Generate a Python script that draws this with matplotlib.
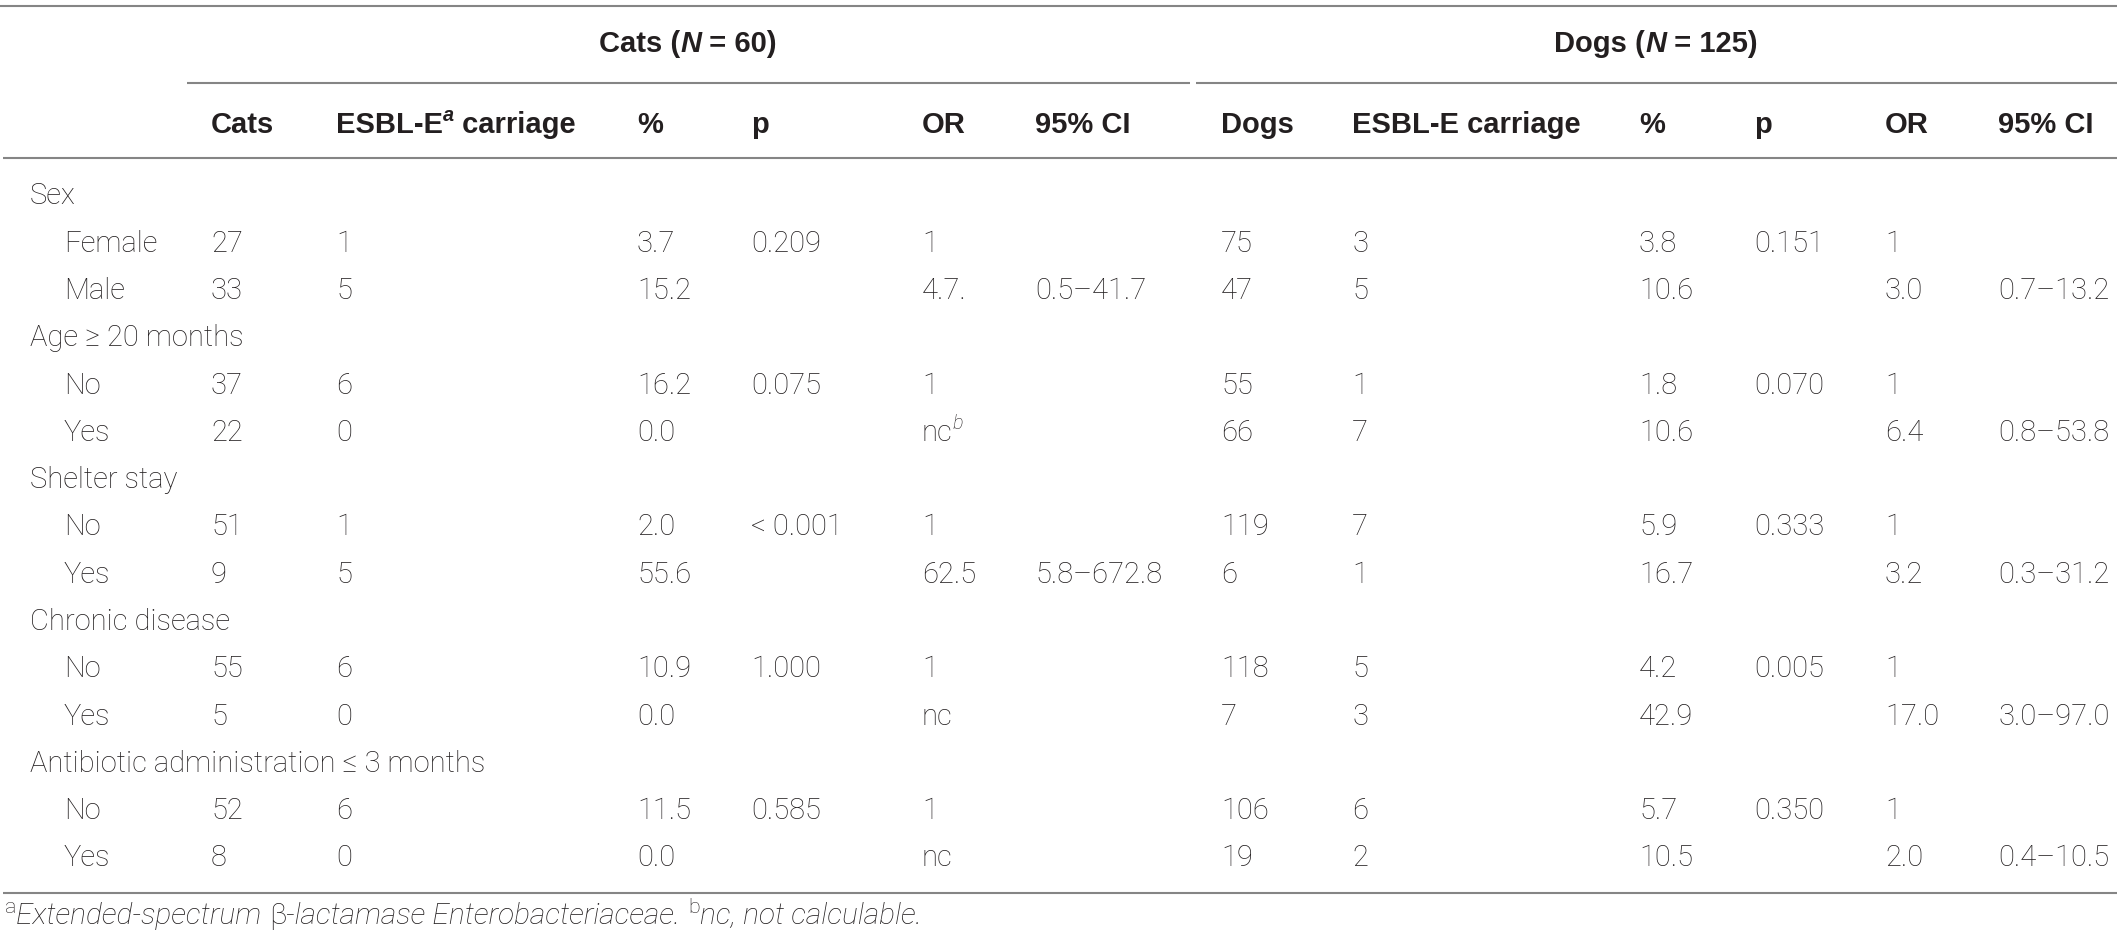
import matplotlib
matplotlib.use("Agg")
import matplotlib.pyplot as plt

# ---------------- data ----------------
variables = ["Sex", "Age ≥ 20 months", "Shelter stay", "Chronic disease",
             "Antibiotic administration ≤ 3 months"]
levels = [["Female", "Male"], ["No", "Yes"], ["No", "Yes"], ["No", "Yes"], ["No", "Yes"]]

cats_n = ["27", "33", "37", "22", "51", "9", "55", "5", "52", "8"]
cats_esbl = ["1", "5", "6", "0", "1", "5", "6", "0", "6", "0"]
cats_pct = ["3.7", "15.2", "16.2", "0.0", "2.0", "55.6", "10.9", "0.0", "11.5", "0.0"]
cats_p = ["0.209", "", "0.075", "", "< 0.001", "", "1.000", "", "0.585", ""]
cats_or = ["1", "4.7.", "1", "nc|b", "1", "62.5", "1", "nc", "1", "nc"]
cats_ci = ["", "0.5–41.7", "", "", "", "5.8–672.8", "", "", "", ""]

dogs_n = ["75", "47", "55", "66", "119", "6", "118", "7", "106", "19"]
dogs_esbl = ["3", "5", "1", "7", "7", "1", "5", "3", "6", "2"]
dogs_pct = ["3.8", "10.6", "1.8", "10.6", "5.9", "16.7", "4.2", "42.9", "5.7", "10.5"]
dogs_p = ["0.151", "", "0.070", "", "0.333", "", "0.005", "", "0.350", ""]
dogs_or = ["1", "3.0", "1", "6.4", "1", "3.2", "1", "17.0", "1", "2.0"]
dogs_ci = ["", "0.7–13.2", "", "0.8–53.8", "", "0.3–31.2", "", "3.0–97.0", "", "0.4–10.5"]

group_titles = [("Cats", "60"), ("Dogs", "125")]
col_headers_cats = ["Cats", "ESBL-E|a carriage", "%", "p", "OR", "95% CI"]
col_headers_dogs = ["Dogs", "ESBL-E carriage", "%", "p", "OR", "95% CI"]

footnote = [("a", "sup"), ("Extended-spectrum ", "it"), ("β", "rm"),
            ("-lactamase Enterobacteriaceae.", "it"), (" ", "rm"), ("b", "sup"),
            ("nc, not calculable.", "it")]

# ---------------- layout ----------------
W, H = 2117, 946
HFAM = ["Liberation Sans", "DejaVu Sans"]
BFAM = ["Roboto", "Liberation Sans", "DejaVu Sans"]
TXT = "#231f20"
LINE = "#858585"
BODY = 21.0
HEAD = 21.0
FOOT = 21.5

cat_x = [211, 336, 637, 751, 922, 1035]
dog_x = [1221, 1352, 1639, 1754, 1885, 1998]
lab_x, sub_x = 30, 64
row0, dy_row = 204.4, 47.29

fig = plt.figure(figsize=(W / 100, H / 100), dpi=100)
ax = fig.add_axes([0, 0, 1, 1])
ax.set_xlim(0, W)
ax.set_ylim(H, 0)
ax.axis("off")
fig.canvas.draw()
R = fig.canvas.get_renderer()


def runs(x, y, parts, ha="left"):
    """parts: list of (text, kwargs, raise_px)."""
    arts = []
    cur = x
    for s, kw, rise in parts:
        t = ax.text(cur, y - rise, s, va="baseline", ha="left", color=TXT, **kw)
        bb = t.get_window_extent(R)
        cur += bb.width
        arts.append(t)
    if ha == "center":
        shift = -(cur - x) / 2
        for t in arts:
            px, py = t.get_position()
            t.set_x(px + shift)
    return cur


def cell(x, y, s, size, weight, fam):
    if "|" in s:
        main, sup = s.split("|")
        rest = ""
        if " " in sup:
            sup, rest = sup.split(" ", 1)
            rest = " " + rest
        parts = [(main, dict(fontsize=size, fontweight=weight, family=fam), 0),
                 (sup, dict(fontsize=size * 0.68, fontweight=weight, style="italic",
                            family=fam), size * 0.55)]
        end = runs(x, y, parts)
        if rest:
            ax.text(end, y, rest, va="baseline", ha="left", color=TXT, family=fam,
                    fontsize=size, fontweight=weight)
    else:
        ax.text(x, y, s, va="baseline", ha="left", color=TXT, family=fam,
                fontsize=size, fontweight=weight)


# horizontal rules
for xs, yv in [([0, W], 6), ([187, 1190], 83), ([1196, W], 83),
               ([3, W], 158.5), ([3, W], 892.5)]:
    ax.plot(xs, [yv, yv], color=LINE, lw=1.5, solid_capstyle="butt")

# group headers
for (name, n), cx in zip(group_titles, [688, 1656]):
    b = dict(fontsize=HEAD, fontweight="bold", family=HFAM)
    bi = dict(fontsize=HEAD, fontweight="bold", style="italic", family=HFAM)
    runs(cx, 52, [(name + " (", b, 0), ("N", bi, 0), (" = " + n + ")", b, 0)], ha="center")

# column headers
for xs, hs in [(cat_x, col_headers_cats), (dog_x, col_headers_dogs)]:
    for x, h in zip(xs, hs):
        cell(x, 133, h, HEAD, "bold", HFAM)

# body
r = 0
k = 0
for var, levs in zip(variables, levels):
    y = row0 + r * dy_row
    cell(lab_x, y, var, BODY, "light", BFAM)
    r += 1
    for lev in levs:
        y = row0 + r * dy_row
        cell(sub_x, y, lev, BODY, "light", BFAM)
        for xs, cols in [(cat_x, [cats_n, cats_esbl, cats_pct, cats_p, cats_or, cats_ci]),
                         (dog_x, [dogs_n, dogs_esbl, dogs_pct, dogs_p, dogs_or, dogs_ci])]:
            for x, col in zip(xs, cols):
                if col[k]:
                    cell(x, y, col[k], BODY, "light", BFAM)
        r += 1
        k += 1

# footnote
parts = []
for s, kind in footnote:
    if kind == "sup":
        parts.append((s, dict(fontsize=FOOT * 0.72, fontweight="light", family=BFAM), FOOT * 0.5))
    elif kind == "it":
        parts.append((s, dict(fontsize=FOOT, style="italic", fontweight="light", family=BFAM), 0))
    else:
        parts.append((s, dict(fontsize=FOOT, fontweight="light", family=BFAM), 0))
runs(5, 924, parts)

fig.savefig("out.png", dpi=100, facecolor="white")
